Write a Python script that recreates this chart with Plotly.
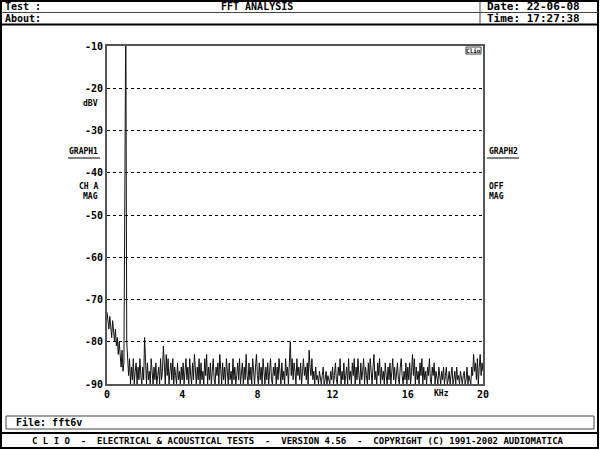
import plotly.graph_objects as go

# ---- data ----
freq_khz = [round(i * 0.05, 2) for i in range(401)]
level_dbv = [
    -73, -75, -77, -74, -76, -79, -75, -78, -80, -77, -81, -79, -83, -80, -84, -86, -82, -87, -85, -46,
    -2, -80, -85, -88, -84, -90, -86, -89, -84, -90, -87, -85, -90, -86, -89, -84, -88, -90, -86, -89,
    -79, -88, -90, -85, -89, -87, -90, -84, -88, -90, -86, -89, -85, -90, -88, -86, -90, -84, -89, -87,
    -81, -86, -90, -83, -88, -84, -90, -87, -85, -89, -84, -90, -86, -88, -90, -85, -89, -87, -90, -86,
    -89, -85, -90, -87, -84, -89, -86, -90, -84, -88, -90, -85, -89, -83, -87, -90, -86, -89, -84, -90,
    -85, -89, -87, -90, -84, -88, -83, -90, -86, -89, -85, -90, -87, -84, -89, -90, -86, -88, -85, -90,
    -83, -88, -90, -85, -89, -86, -90, -84, -88, -90, -85, -89, -87, -90, -84, -89, -86, -90, -88, -85,
    -89, -84, -90, -87, -85, -90, -86, -89, -83, -88, -90, -85, -89, -86, -90, -84, -88, -90, -86, -83,
    -88, -90, -85, -89, -86, -90, -84, -88, -90, -86, -89, -85, -90, -87, -84, -89, -90, -86, -88, -85,
    -90, -86, -89, -84, -88, -90, -85, -89, -87, -90, -84, -88, -86, -90, -85, -80, -88, -84, -89, -85,
    -87, -90, -84, -88, -86, -89, -85, -90, -87, -84, -88, -86, -89, -85, -90, -82, -86, -88, -84, -89,
    -87, -90, -86, -89, -88, -90, -87, -89, -90, -88, -86, -90, -89, -87, -90, -88, -89, -90, -87, -89,
    -86, -90, -88, -85, -89, -90, -86, -88, -84, -90, -87, -89, -85, -90, -88, -86, -90, -84, -89, -87,
    -90, -85, -88, -84, -90, -86, -89, -84, -88, -90, -85, -89, -87, -84, -90, -86, -88, -90, -85, -89,
    -84, -88, -90, -86, -83, -89, -87, -90, -85, -88, -84, -90, -86, -89, -87, -90, -85, -88, -90, -86,
    -89, -85, -90, -87, -84, -89, -86, -90, -88, -85, -89, -90, -86, -84, -88, -90, -87, -89, -85, -90,
    -86, -89, -85, -90, -87, -83, -88, -84, -90, -86, -89, -87, -90, -85, -88, -84, -90, -86, -89, -87,
    -90, -86, -88, -84, -89, -90, -86, -88, -85, -90, -87, -89, -90, -86, -88, -90, -87, -89, -86, -90,
    -88, -86, -90, -89, -87, -90, -88, -86, -90, -89, -87, -90, -86, -89, -88, -90, -87, -89, -90, -88,
    -87, -90, -89, -86, -90, -88, -89, -90, -86, -88, -83, -87, -85, -89, -84, -90, -86, -83, -88, -85,
    -87,
]
y_ticks = [-10, -20, -30, -40, -50, -60, -70, -80, -90]
x_ticks = [0, 4, 8, 12, 16, 20]

W, H = 600, 450
L, R, T, B = 107, 483, 46, 384
FONT = "DejaVu Sans Mono"

def px(x):
    return (x - L) / (R - L)

def py(y):
    return (B - y) / (B - T)

fig = go.Figure()
fig.add_trace(go.Scatter(x=freq_khz, y=level_dbv, mode="lines",
                         line=dict(color="#111111", width=1), hoverinfo="skip"))

fig.update_layout(
    width=W, height=H,
    margin=dict(l=L, r=W - R, t=T, b=H - B, pad=0),
    paper_bgcolor="white", plot_bgcolor="white",
    showlegend=False,
    font=dict(family=FONT, size=10, color="black"),
)
fig.update_xaxes(range=[0, 20], tickvals=x_ticks, ticktext=[str(v) for v in x_ticks],
                 showgrid=False, zeroline=False, showline=True, mirror=True,
                 linecolor="#555555", linewidth=2, ticks="", ticklen=0,
                 tickfont=dict(family=FONT, size=10, color="black", weight="bold"))
fig.update_yaxes(range=[-90, -10], tickvals=y_ticks, ticktext=[str(v) for v in y_ticks],
                 showgrid=True, gridcolor="black", gridwidth=1, griddash="dot",
                 zeroline=False, showline=True, mirror=True,
                 linecolor="#555555", linewidth=2, ticks="", ticklen=4,
                 tickfont=dict(family=FONT, size=10, color="black", weight="bold"))

shapes = []
def hline(y, x0, x1, color="black", width=1):
    shapes.append(dict(type="line", xref="paper", yref="paper",
                       x0=px(x0), x1=px(x1), y0=py(y), y1=py(y),
                       line=dict(color=color, width=width)))
def vline(x, y0, y1, color="black", width=1):
    shapes.append(dict(type="line", xref="paper", yref="paper",
                       x0=px(x), x1=px(x), y0=py(y0), y1=py(y1),
                       line=dict(color=color, width=width)))
def rect(x0, y0, x1, y1, color="black", width=1):
    shapes.append(dict(type="rect", xref="paper", yref="paper",
                       x0=px(x0), x1=px(x1), y0=py(y0), y1=py(y1),
                       line=dict(color=color, width=width)))

rect(1, 1, 598, 448, "black", 2)
hline(12.5, 1, 598, "#444444", 1)
hline(24.5, 1, 598, "black", 2)
vline(480, 1, 24, "#444444", 1)
rect(6, 416, 594, 429, "#444444", 1)
hline(433, 1, 598, "black", 2)
hline(158, 68, 100, "black", 1)
hline(158, 487, 519, "black", 1)
rect(466, 47, 481, 54, "#444444", 1)

fig.update_layout(shapes=shapes)

def text(x, y, s, anchor="left", size=10, weight="bold", color="black"):
    fig.add_annotation(xref="paper", yref="paper", x=px(x), y=py(y), text=s,
                       showarrow=False, xanchor=anchor, yanchor="middle",
                       font=dict(family=FONT, size=size, color=color, weight=weight))

text(3, 6.5, "Test :")
text(257, 6.5, "FFT ANALYSIS", "center")
text(3, 18.5, "About:")
text(485, 6.5, "Date: 22-06-08", size=11)
text(485, 18.5, "Time: 17:27:38", size=11)
text(14, 422.5, "File: fft6v")
text(298, 441, "C L I O  -  ELECTRICAL & ACOUSTICAL TESTS  -  VERSION 4.56  -  COPYRIGHT (C) 1991-2002 AUDIOMATICA",
     "center", size=9)
text(100, 103, "dBV", "right", size=8)
text(100, 151, "GRAPH1", "right", size=8)
text(100, 186, "CH A", "right", size=8)
text(100, 196, "MAG", "right", size=8)
text(487, 151, "GRAPH2", "left", size=8)
text(487, 186, "OFF", "left", size=8)
text(487, 196, "MAG", "left", size=8)
text(441, 393, "KHz", "center", size=8)
text(473.5, 50.5, "Clio", "center", size=6)

fig.write_html("out.html", config={"displayModeBar": False},
               post_script="document.body.style.margin='0';document.body.style.overflow='hidden';")
